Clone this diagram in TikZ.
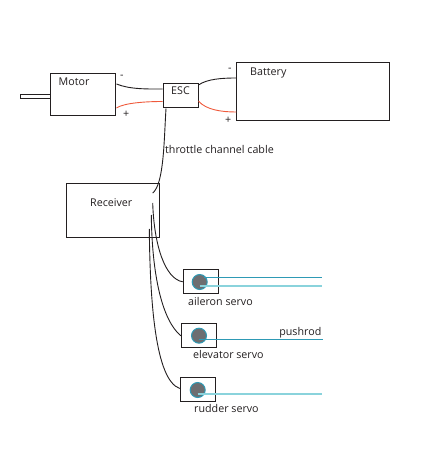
\documentclass[tikz,border=0pt]{standalone}
\usepackage{fontspec}
\setmainfont{Open Sans}
\definecolor{rodd}{HTML}{2E9AB5}
\definecolor{rodl}{HTML}{8AD3DC}
\definecolor{hub}{HTML}{6D6E71}
\definecolor{redw}{HTML}{EF5A3C}
\definecolor{ink}{HTML}{231F20}
\tikzset{
  boxn/.style={draw=ink,line width=1pt,inner sep=0pt,fill=white},
  lab/.style={inner sep=0pt,font=\fontsize{10.7}{12}\selectfont,text=ink,anchor=base west},
  wire/.style={draw=ink,line width=0.9pt},
  redwire/.style={draw=redw,line width=0.9pt},
  hubn/.style={circle,draw=rodd,fill=hub,line width=1pt,minimum size=15pt,inner sep=0pt},
  roda/.style={draw=rodd,line width=0.8pt},
  rodb/.style={draw=rodl,line width=1.6pt},
}
\begin{document}
\begin{tikzpicture}[x=1pt,y=-1pt]
\useasboundingbox (0,0) rectangle (445,462);
\node[boxn,minimum height=4pt,anchor=north west,minimum width=30pt] (shaft) at (20,94) {};
\node[boxn,minimum width=65.5pt,minimum height=42pt] (motor) at (83.2,95) {};
\node[boxn,minimum width=35pt,minimum height=24pt] (esc) at (180.5,96) {};
\node[boxn,minimum width=152.5pt,minimum height=58.7pt] (battery) at (313,91.4) {};
\node[boxn,minimum width=92.6pt,minimum height=53.7pt] (receiver) at (113,210.8) {};
\node[boxn,minimum width=35.4pt,minimum height=24pt] (ail) at (201,281.3) {};
\node[boxn,minimum width=35.4pt,minimum height=24pt] (ele) at (199,335.3) {};
\node[boxn,minimum width=35.4pt,minimum height=24.4pt] (rud) at (198,389.5) {};
\node[hubn] (hubA) at (199.7,282) {};
\node[hubn] (hubE) at (199,335.7) {};
\node[hubn] (hubR) at (197.7,390) {};
\coordinate (endA1) at (322,277.3);
\coordinate (endA2) at (322,286);
\coordinate (endE) at (323,339.3);
\coordinate (endR) at (322,394);
\coordinate (rxT) at (152.7,193);
\coordinate (rxA) at (152.7,203);
\coordinate (rxE) at (151.3,215);
\coordinate (rxR) at (149.3,229);
\draw[roda] (hubA.center |- endA1) ++(4,0) -- (endA1);
\draw[rodb] (hubA.center |- endA2) -- (endA2);
\draw[roda] (hubE.center |- endE) -- (endE);
\draw[rodb] (hubR.center |- endR) -- (endR);
\draw[wire] ([yshift=11pt]motor.east) .. controls (130,89.5) and (148,89) .. ([yshift=7pt]esc.west);
\draw[redwire] ([yshift=-13pt]motor.east) .. controls (124,103) and (145,101.5) .. ([yshift=-5.5pt]esc.west);
\draw[wire] ([yshift=11pt]esc.east) .. controls (207,79) and (222,78) .. ([yshift=13.4pt]battery.west);
\draw[redwire] ([yshift=-5pt]esc.east) .. controls (206,110) and (222,112) .. ([yshift=-20.6pt]battery.west);
\draw[wire] ([xshift=-14.5pt]esc.south) .. controls (164,140) and (164,184) .. (rxT);
\draw[wire] (rxA) .. controls (154,245) and (165,279) .. ([yshift=-0.5pt]ail.west);
\draw[wire] (rxE) .. controls (152,275) and (162,320) .. ([yshift=-0.5pt]ele.west);
\draw[wire] (rxR) .. controls (150,300) and (155,380) .. ([yshift=1pt]rud.west);
\node[lab] (tMotor) at (58.5,86) {Motor};
\node[lab] (tm1) at (120,79) {-};
\node[lab] (tp1) at (123,118) {+};
\node[lab] (tEsc) at (171,95) {ESC};
\node[lab] (tBat) at (250,76) {Battery};
\node[lab] (tm2) at (228,72) {-};
\node[lab] (tp2) at (225,124) {+};
\node[lab] (tThr) at (165,154) {throttle channel cable};
\node[lab] (tRec) at (90,206) {Receiver};
\node[lab] (tAil) at (188,305) {aileron servo};
\node[lab] (tEle) at (193,358) {elevator servo};
\node[lab] (tRud) at (194,412) {rudder servo};
\node[lab,anchor=base east] (tPush) at (321.5,335) {pushrod};
\end{tikzpicture}
\end{document}
